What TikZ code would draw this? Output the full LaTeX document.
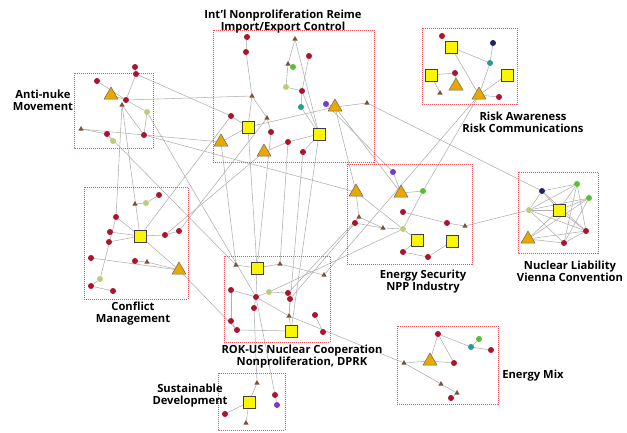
\documentclass[tikz,border=0pt]{standalone}
\usepackage{fontspec}
\setmainfont{Open Sans}
\usetikzlibrary{shapes.geometric,backgrounds}
\definecolor{HubYellow}{RGB}{250,245,0}
\definecolor{HubOrange}{RGB}{232,168,0}
\definecolor{DotRed}{RGB}{170,20,45}
\definecolor{TriBrown}{RGB}{120,80,60}
\definecolor{DotGreen}{RGB}{90,190,50}
\definecolor{DotLime}{RGB}{185,205,125}
\definecolor{DotTeal}{RGB}{40,155,145}
\definecolor{DotPurple}{RGB}{115,60,200}
\definecolor{DotNavy}{RGB}{35,35,95}
\definecolor{LinkGray}{RGB}{175,175,175}
\definecolor{BoxRed}{RGB}{235,80,90}
\tikzset{
  hub/.style={draw=black!75, fill=HubYellow, rectangle, minimum size=11.5pt,
    inner sep=0pt, line width=0.5pt},
  bigtri/.style={draw=black!60, fill=HubOrange, regular polygon,
    regular polygon sides=3, minimum size=16pt, inner sep=0pt, line width=0.5pt},
  smalltri/.style={fill=TriBrown, regular polygon, regular polygon sides=3,
    minimum size=6pt, inner sep=0pt},
  dot/.style={circle, fill=DotRed, minimum size=6pt, inner sep=0pt},
  grndot/.style={dot, fill=DotGreen},
  limedot/.style={dot, fill=DotLime},
  tealdot/.style={dot, fill=DotTeal},
  purpdot/.style={dot, fill=DotPurple},
  navydot/.style={dot, fill=DotNavy},
  link/.style={draw=LinkGray, line width=0.55pt},
  grp/.style={draw=BoxRed, line width=0.5pt, dash pattern=on 1pt off 1pt},
  grplabel/.style={font=\bfseries\fontsize{11.2}{12}\selectfont, align=center,
    inner sep=0pt}
}

\begin{document}
\begin{tikzpicture}[x=1pt,y=-1pt]
  \useasboundingbox (0,0) rectangle (627,432);

  % cluster frames
  \draw[grp] (213,30) rectangle (374,162);
  \draw[grp] (74,73) rectangle (153,148);
  \draw[grp] (422,28) rectangle (517,104);
  \draw[grp] (84,187) rectangle (188,299);
  \draw[grp] (347,164) rectangle (472,264);
  \draw[grp] (518,172) rectangle (598,253);
  \draw[grp] (224,256) rectangle (330,342);
  \draw[grp] (397,326) rectangle (498,404);
  \draw[grp] (218,373) rectangle (285,430);

  % cluster names
  \node[grplabel] (lblInt) at (283,22) {Int'l Nonproliferation Reime\\Import/Export Control};
  \node[grplabel] (lblAnti) at (43,100) {Anti-nuke\\Movement};
  \node[grplabel] (lblRisk) at (523,122) {Risk Awareness\\Risk Communications};
  \node[grplabel] (lblConf) at (133,314) {Conflict\\Management};
  \node[grplabel] (lblEnSec) at (423,282) {Energy Security\\NPP Industry};
  \node[grplabel] (lblLiab) at (570,271) {Nuclear Liability\\Vienna Convention};
  \node[grplabel] (lblRok) at (302,357) {ROK-US Nuclear Cooperation\\Nonproliferation, DPRK};
  \node[grplabel] (lblMix) at (533,376) {Energy Mix};
  \node[grplabel] (lblSust) at (190,396) {Sustainable\\Development};

  % keywords
  \foreach \n/\x/\y in {i16/248/127, i18/319/134, r2/451/47, r5/431/75, r7/507/75,
      c7/140/236, e12/417/240, e13/452/241, n5/559/210, k2/257/268, k15/291/331,
      s4/249/402}
    \node[hub] (\n) at (\x,\y) {};
  \foreach \n/\x/\y in {i12/335/107, i19/221/142, i21/264/152, a4/111/95, r8/456/86,
      r10/479/95, c13/179/270, e2/356/192, e3/401/193, n7/528/239, m6/430/361}
    \node[bigtri] (\n) at (\x,\y) {};
  \foreach \n/\x/\y in {i2/295/39, i5/288/64, i7/252/96, i13/367/103, i15/267/118,
      a6/122/105, a8/81/129, r9/440/93, c3/135/204, c12/147/262, e6/359/217,
      e8/383/228, e11/465/226, k1/236/265, k3/280/264, k4/324/275, k11/289/316,
      m5/404/363, m8/441/384, m9/457/393, s1/257/383, s6/246/423}
    \node[smalltri] (\n) at (\x,\y) {};
  \foreach \n/\x/\y in {i1/247/37, i3/246/52, i4/309/56, i9/302/91, i14/231/116,
      i17/271/132, i20/288/142, i22/303/152, a1/135/67, a2/136/74, a3/97/81,
      a5/126/100, a9/107/134, a11/144/135, r1/442/36, r6/455/73, r11/499/97,
      c1/159/195, c4/116/217, c5/110/232, c6/109/242, c8/165/235, c9/179/231,
      c10/91/258, c11/135/261, c15/91/286, c16/113/291, e5/403/212, e7/355/223,
      e10/447/223, e14/403/252, e15/428/257, n6/586/231, n8/564/243, k5/231/290,
      k7/256/297, k8/288/293, k9/290/299, k10/254/308, k12/315/315, k13/231/321,
      k14/237/330, k16/323/332, m1/438/334, m4/491/350, m7/454/363, m10/451/398,
      s2/275/395, s5/225/414}
    \node[dot] (\n) at (\x,\y) {};
  \foreach \n/\x/\y in {i6/293/67, e4/423/191, n2/577/184, n3/589/198, m2/479/339}
    \node[grndot] (\n) at (\x,\y) {};
  \foreach \n/\x/\y in {i8/286/87, a7/147/112, a10/113/141, c2/146/203, c14/100/279,
      e9/403/229, n4/529/210, k6/269/292}
    \node[limedot] (\n) at (\x,\y) {};
  \foreach \n/\x/\y in {i10/301/107, r4/490/63, m3/471/347}
    \node[tealdot] (\n) at (\x,\y) {};
  \foreach \n/\x/\y in {i11/326/104, e1/393/172, s3/277/405}
    \node[purpdot] (\n) at (\x,\y) {};
  \foreach \n/\x/\y in {r3/493/43, n1/542/191}
    \node[navydot] (\n) at (\x,\y) {};

  % co-occurrence links
  \begin{scope}[on background layer]
    \foreach \a/\b in {i2/i5, i5/i6, i5/i8, i2/i18, i3/i7, i7/i16, i7/i15, i8/i9,
        i9/i10, i10/i18, i11/i12, i12/i13, i14/i16, i16/i19, i15/i17, i16/i12,
        i18/i20, i20/i21, i18/i22, i4/i9, i9/i18, i1/i3,
        a3/a5, a1/a2, a2/a5, a5/a7, a6/a11, a8/a9, a9/a10, a8/a11, a7/a11, a4/a5,
        r2/r10, r3/r4, r4/r10, r2/r4, r5/r6, r7/r10, r10/r11, r6/r8, r5/r9,
        c1/c2, c2/c3, c4/c7, c5/c7, c6/c7, c7/c8, c8/c9, c10/c13, c11/c12,
        c12/c13, c7/c13, c14/c15, c14/c4, c15/c16,
        e2/e6, e2/e9, e3/e4, e4/e9, e5/e10, e10/e11, e6/e8, e7/e8, e8/e9,
        e9/e12, e14/e15, e15/e13, e12/e14, e1/e3,
        n1/n2, n1/n5, n1/n6, n2/n4, n2/n5, n2/n8, n3/n5, n3/n4, n3/n8, n4/n5,
        n4/n6, n4/n8, n5/n6, n5/n7, n6/n7, n6/n8, n7/n8, n2/n6, n1/n4, n3/n7,
        k1/k2, k2/k3, k2/k7, k5/k7, k7/k6, k6/k8, k8/k9, k9/k11, k10/k7,
        k13/k5, k13/k14, k14/k15, k11/k15, k12/k16, k7/k11, k3/k4,
        m1/m6, m1/m7, m1/m3, m3/m2, m3/m4, m5/m6, m6/m7, m5/m8, m8/m9, m9/m10,
        s1/s4, s4/s5, s4/s6, s2/s3}
      \draw[link] (\a) -- (\b);
    \foreach \a/\b in {a11/e2, a9/k1, a6/c4, a6/c7, a7/k7, a5/i7, a11/i19,
        i19/k1, i16/k2, i17/k2, i20/k3, i22/k11, i18/k15, i12/e2, i12/e3,
        i13/n1, i21/c8, c9/i15, r10/k4, r10/e4, e11/n4, e6/k8, e7/k9, e9/k6,
        c13/k14, m5/k11, s1/k10, s2/k7, i11/e1, a2/i14, c7/i14}
      \draw[link] (\a) -- (\b);
  \end{scope}
\end{tikzpicture}
\end{document}
